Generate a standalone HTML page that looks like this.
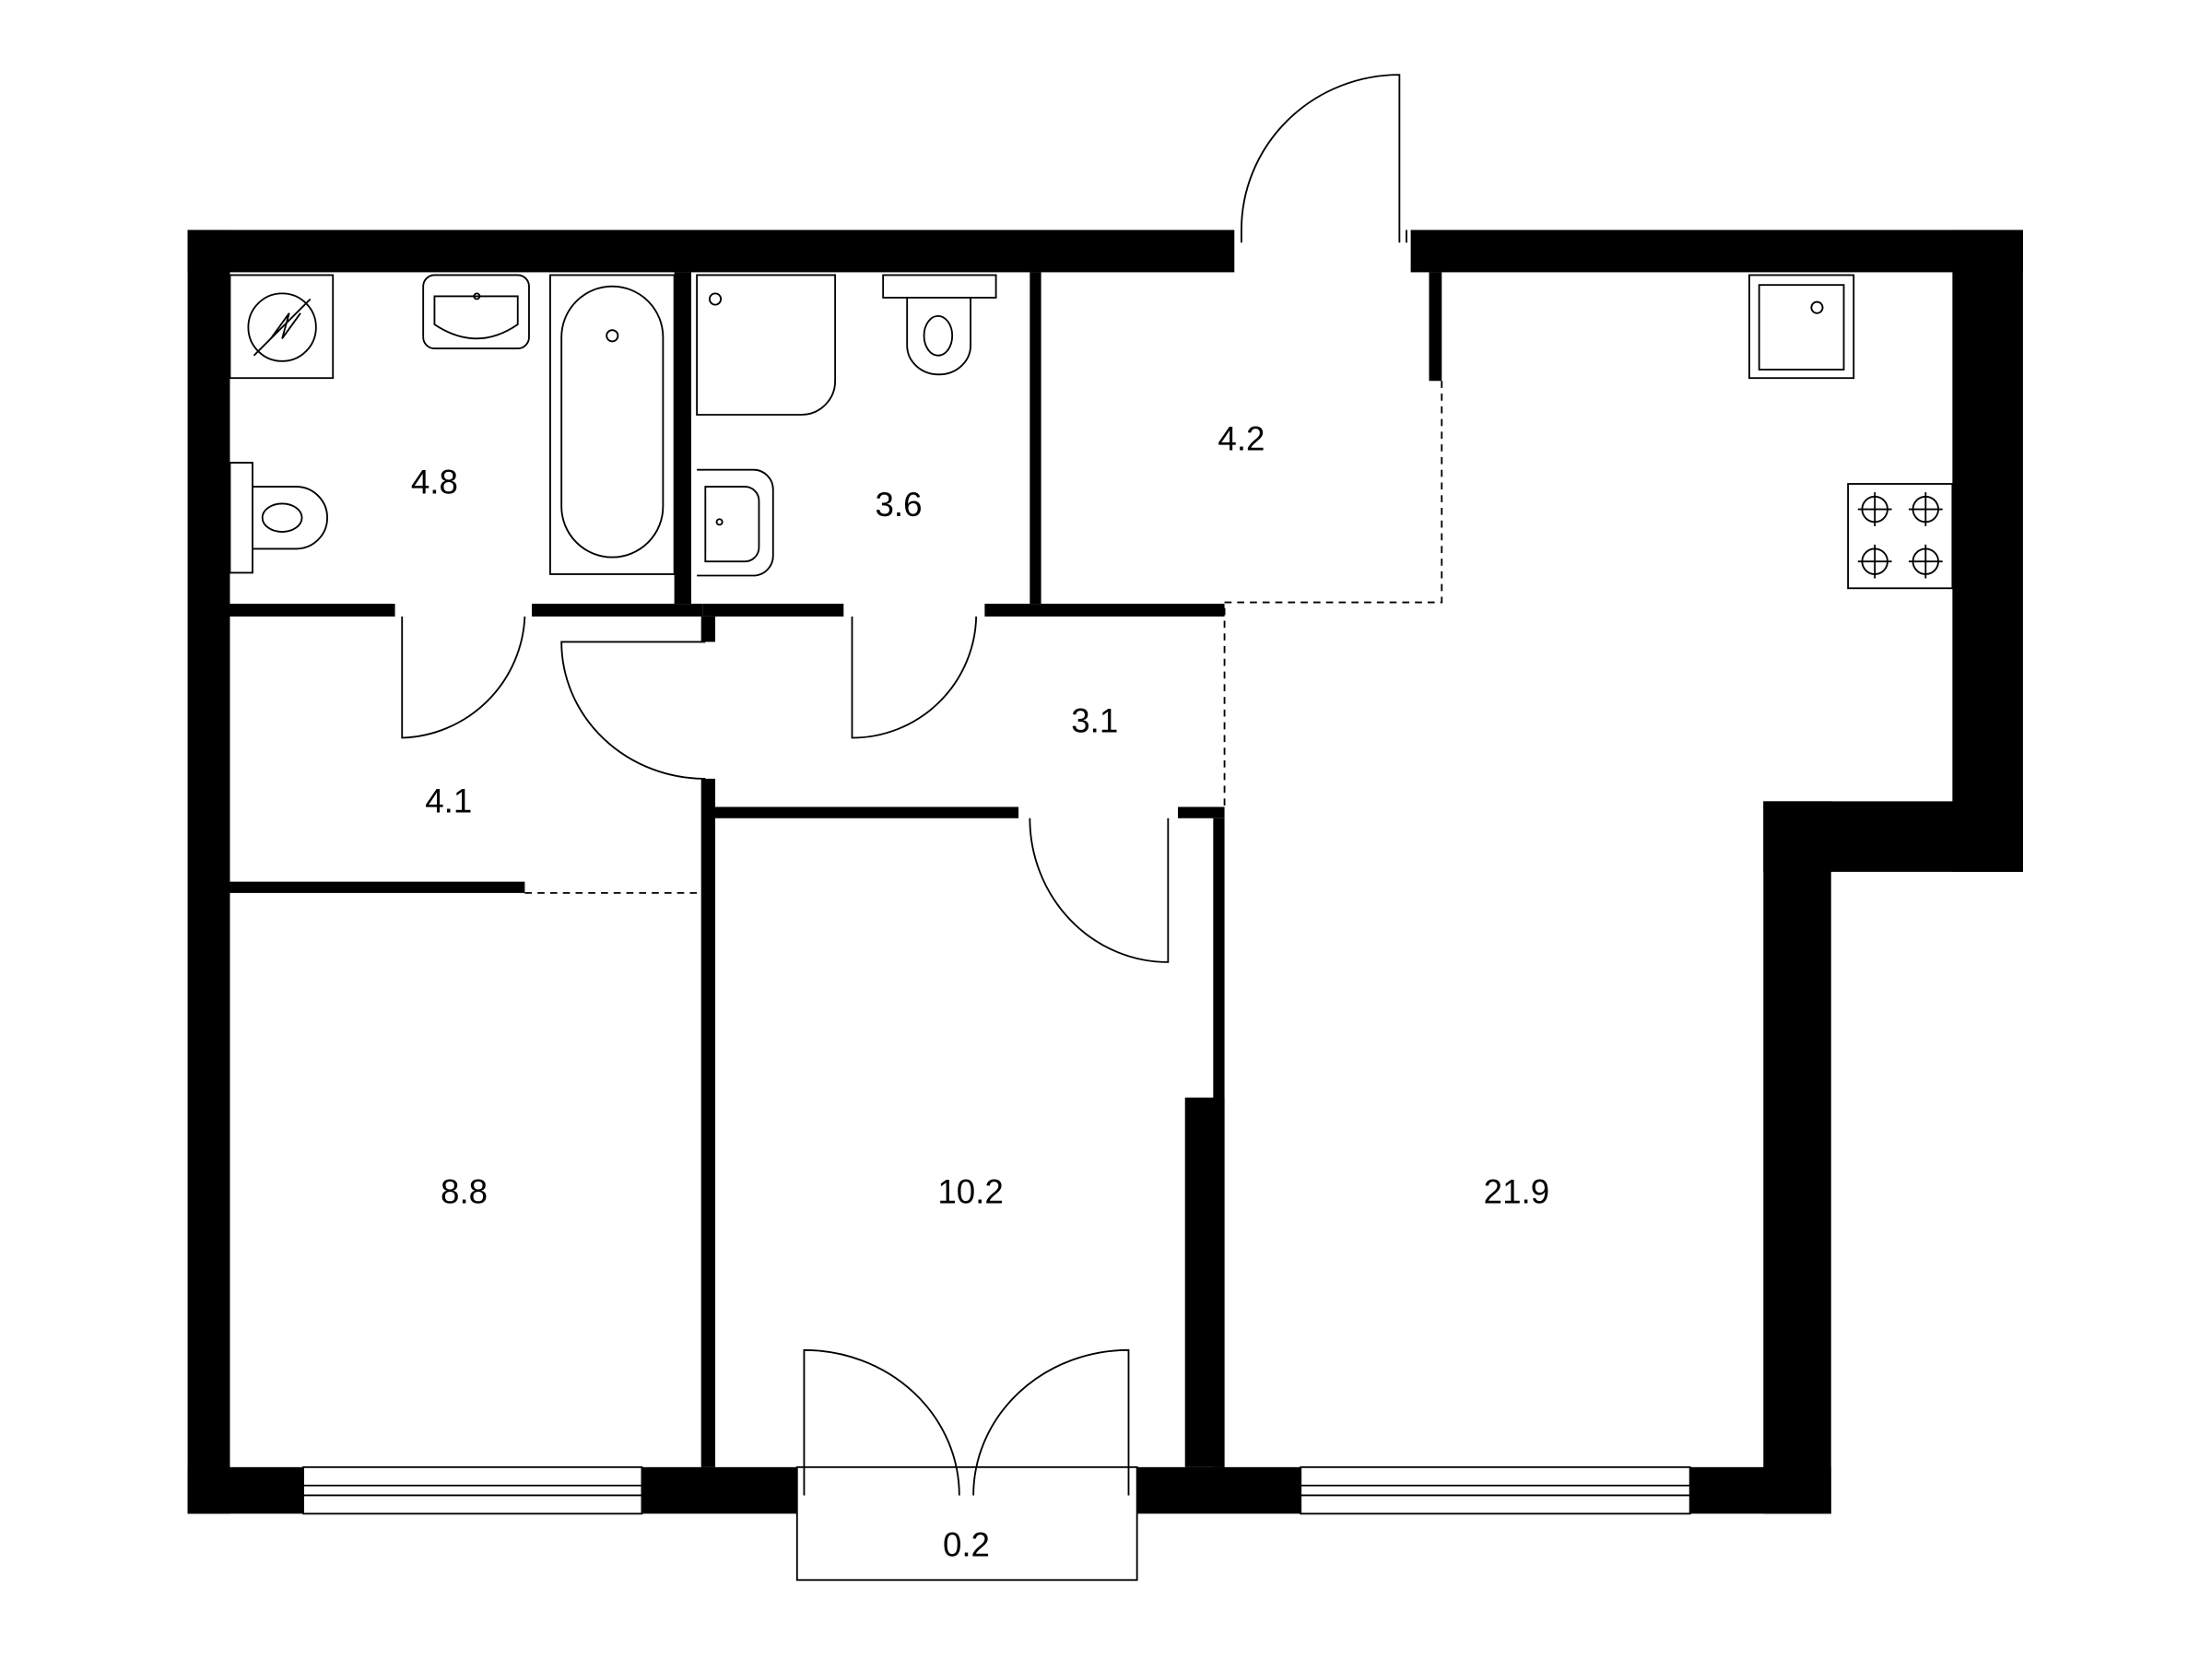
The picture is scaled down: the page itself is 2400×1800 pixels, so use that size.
<!DOCTYPE html>
<html><head><meta charset="utf-8"><style>
html,body{margin:0;padding:0;background:#fff;}
svg{display:block;}
text{font-family:"Liberation Sans",sans-serif;font-size:24px;fill:#000;text-anchor:middle;}
</style></head><body>
<svg width="2400" height="1800" viewBox="0 0 1568 1176" xmlns="http://www.w3.org/2000/svg">
<g fill="#000">
<rect x="133" y="163" width="742" height="30"/>
<rect x="1000" y="163" width="434" height="30"/>
<rect x="133" y="163" width="30" height="910"/>
<rect x="1384" y="163" width="50" height="455"/>
<rect x="1250" y="568" width="184" height="50"/>
<rect x="1250" y="568" width="48" height="505"/>
<rect x="133" y="1040" width="82" height="33"/>
<rect x="455" y="1040" width="110" height="33"/>
<rect x="806" y="1040" width="116" height="33"/>
<rect x="1198" y="1040" width="100" height="33"/>
<rect x="478" y="193" width="12" height="235"/>
<rect x="730" y="193" width="8" height="235"/>
<rect x="163" y="428" width="117" height="9"/>
<rect x="377" y="428" width="121" height="9"/>
<rect x="498" y="428" width="100" height="9"/>
<rect x="698" y="428" width="170" height="9"/>
<rect x="1013" y="193" width="9" height="77"/>
<rect x="497" y="437" width="10" height="18"/>
<rect x="497" y="552" width="10" height="488"/>
<rect x="507" y="572" width="215" height="8"/>
<rect x="835" y="572" width="33" height="8"/>
<rect x="860" y="580" width="8" height="460"/>
<rect x="840" y="778" width="28" height="262"/>
<rect x="163" y="625" width="209" height="8"/>
</g>
<g fill="none" stroke="#000" stroke-width="1.2">
<path d="M1022 270V427H868V572M372 633H497" stroke-dasharray="5 4"/>
<!-- windows -->
<rect x="215" y="1040" width="240" height="33"/><line x1="215" y1="1053" x2="455" y2="1053"/><line x1="215" y1="1060" x2="455" y2="1060"/>
<rect x="922" y="1040" width="276" height="33"/><line x1="922" y1="1053" x2="1198" y2="1053"/><line x1="922" y1="1060" x2="1198" y2="1060"/>
<!-- balcony -->
<rect x="565" y="1040" width="241" height="80"/>
<path d="M570 1060V957A110 103 0 0 1 680 1060M800 1060V957A110 103 0 0 0 690 1060"/>
<!-- doors -->
<path d="M992 163V53A112 110 0 0 0 880 163M880 163V172M992 163V172M997 172V163"/>
<path d="M285 437V523A90 90 0 0 0 372 437"/>
<path d="M604 437V523A88 88 0 0 0 692 437"/>
<path d="M500 455H398A102 97 0 0 0 500 552"/>
<path d="M828 580V682A98 102 0 0 1 730 580"/>
<!-- fixtures -->
<rect x="163" y="195" width="73" height="73"/><circle cx="200" cy="232" r="24"/><path d="M180 252L220 212M192 240L205 222L200 240L213 222"/>
<rect x="300" y="195" width="75" height="52" rx="8"/><path d="M308 210H367V230Q338 250 308 230Z"/><circle cx="338" cy="210" r="2"/>
<rect x="390" y="195" width="88" height="212"/><rect x="398" y="203" width="72" height="192" rx="36"/><circle cx="434" cy="238" r="4"/>
<rect x="163" y="328" width="16" height="78"/><path d="M179 345H210A22 22 0 0 1 210 389H179"/><ellipse cx="200" cy="367" rx="14" ry="10"/>
<path d="M494 195H592V270A24 24 0 0 1 568 294H494Z"/><circle cx="507" cy="212" r="4"/>
<rect x="626" y="195" width="80" height="16"/><path d="M643 211V245A22 20 0 0 0 688 245V211"/><ellipse cx="665" cy="238" rx="10" ry="14"/>
<path d="M494 333H534A14 14 0 0 1 548 347V394A14 14 0 0 1 534 408H494"/><path d="M500 345H528A10 10 0 0 1 538 355V388A10 10 0 0 1 528 398H500Z"/><circle cx="510" cy="370" r="2"/>
<rect x="1240" y="195" width="74" height="73"/><rect x="1247" y="202" width="60" height="60"/><circle cx="1288" cy="218" r="4"/>
<rect x="1310" y="343" width="74" height="74"/>
<g><circle cx="1329" cy="361" r="9"/><path d="M1317 361H1341M1329 349V373"/>
<circle cx="1365" cy="361" r="9"/><path d="M1353 361H1377M1365 349V373"/>
<circle cx="1329" cy="398" r="9"/><path d="M1317 398H1341M1329 386V410"/>
<circle cx="1365" cy="398" r="9"/><path d="M1353 398H1377M1365 386V410"/></g>
</g>
<text x="308" y="350">4.8</text>
<text x="637" y="366">3.6</text>
<text x="880" y="319">4.2</text>
<text x="776" y="519">3.1</text>
<text x="318" y="576">4.1</text>
<text x="329" y="853">8.8</text>
<text x="688" y="853">10.2</text>
<text x="1075" y="853">21.9</text>
<text x="685" y="1103">0.2</text>
</svg>
</body></html>
